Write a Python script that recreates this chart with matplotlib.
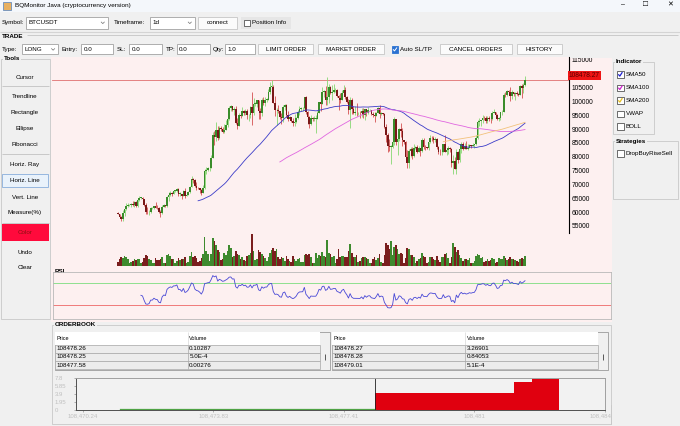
import numpy as np
import pandas as pd
import matplotlib
matplotlib.use('Agg')
import matplotlib.pyplot as plt
import matplotlib.transforms as mtransforms
from matplotlib.patches import Rectangle

plt.rcParams['font.family'] = ['Liberation Sans', 'DejaVu Sans']

# ---------------- data (daily BTCUSDT candles, prices in thousands) ----------------
first_open_k = 60.5
close_k = [
    60.0, 59.1, 58.2, 60.3, 61.8, 63.0, 63.2, 63.3, 63.6, 63.3,
    64.3, 63.1, 65.2, 65.8, 65.9, 65.6, 63.3, 60.8, 60.6, 60.8,
    62.1, 62.1, 62.8, 62.2, 62.1, 60.6, 60.3, 62.4, 63.2, 62.9,
    66.0, 67.0, 67.6, 67.4, 68.4, 68.4, 69.0, 67.4, 67.4, 66.7,
    68.2, 66.6, 67.0, 67.9, 69.9, 72.7, 72.3, 70.2, 69.5, 69.3,
    68.7, 67.8, 69.4, 75.6, 75.9, 76.5, 76.7, 80.4, 88.7, 88.0,
    90.5, 87.4, 91.1, 90.6, 89.8, 90.5, 92.3, 94.3, 98.3, 98.9,
    97.7, 98.0, 93.0, 91.9, 95.9, 95.6, 97.4, 96.4, 97.2, 95.8,
    96.0, 98.6, 96.6, 99.9, 99.9, 101.1, 97.3, 96.6, 101.1, 100.0,
    101.4, 101.4, 104.3, 106.0, 106.1, 100.2, 97.5, 97.8, 97.2, 95.2,
    94.8, 98.7, 99.4, 95.8, 94.2, 95.2, 93.7, 92.8, 93.4, 94.6,
    96.9, 98.1, 98.2, 98.3, 102.3, 96.9, 95.0, 92.5, 94.7, 94.5,
    94.5, 94.5, 96.5, 100.5, 99.9, 104.1, 104.4, 101.3, 102.3, 106.1,
    103.7, 104.0, 104.7, 104.7, 102.6, 102.1, 101.3, 103.7, 104.7, 102.4,
    100.6, 97.7, 101.4, 97.9, 96.6, 96.6, 96.5, 96.5, 96.4, 97.4,
    95.8, 97.9, 96.6, 97.5, 97.6, 96.1, 95.8, 95.5, 96.6, 98.3,
    96.1, 96.6, 96.3, 91.5, 88.7, 84.7, 84.3, 84.4, 86.0, 94.3,
    86.1, 87.2, 90.6, 89.9, 86.7, 86.2, 80.7, 78.5, 82.9, 83.7,
    81.1, 83.9, 84.3, 82.6, 84.0, 82.7, 86.9, 84.2, 84.1, 83.8,
    86.1, 87.5, 87.4, 86.9, 87.2, 84.4, 82.6, 82.4, 82.5, 85.2,
    82.5, 83.1, 83.8, 83.5, 78.4, 79.2, 76.3, 82.6, 79.6, 83.4,
    85.3, 83.7, 84.5, 83.6, 84.0, 84.9, 84.5, 85.0, 85.2, 87.5,
    93.4, 93.7, 93.9, 94.7, 94.6, 93.8, 94.9, 94.3, 94.2, 96.5,
    96.9, 95.9, 94.3, 94.7, 96.8, 97.0, 103.2, 102.9, 104.6, 104.1,
    102.8, 104.2, 103.5, 103.7, 103.5, 103.2, 106.4, 105.6, 106.8, 108.47827,
]
high_k = [
    60.7, 60.2, 59.2, 61.3, 62.0, 64.1, 64.0, 63.6, 64.0, 64.8,
    64.6, 64.8, 65.3, 66.5, 66.3, 66.1, 65.6, 64.1, 62.4, 61.5,
    62.5, 62.4, 63.0, 64.5, 63.2, 62.5, 61.3, 63.4, 63.5, 63.3,
    66.5, 67.9, 68.4, 68.0, 68.7, 68.7, 69.5, 69.5, 67.9, 67.4,
    68.8, 69.5, 67.4, 68.3, 70.3, 73.6, 72.9, 72.7, 71.6, 69.9,
    69.4, 69.0, 70.6, 76.4, 76.9, 77.2, 76.9, 81.5, 89.5, 89.9,
    93.3, 91.8, 91.9, 91.8, 91.5, 92.6, 94.0, 94.9, 98.9, 99.6,
    99.0, 98.7, 98.9, 94.7, 96.5, 96.7, 98.7, 97.5, 98.0, 98.1,
    96.3, 99.0, 104.0, 101.9, 100.5, 101.4, 101.2, 98.3, 101.9, 102.5,
    102.5, 102.0, 105.2, 107.8, 108.4, 106.5, 102.8, 98.2, 99.5, 97.4,
    96.4, 99.4, 99.9, 99.9, 97.3, 95.5, 95.2, 94.9, 96.2, 95.0,
    97.8, 98.9, 98.8, 98.8, 102.5, 102.7, 97.2, 95.3, 95.8, 95.1,
    95.4, 95.9, 97.4, 100.7, 100.9, 105.9, 104.9, 106.3, 109.6, 107.2,
    106.3, 106.8, 107.1, 105.5, 105.2, 103.0, 103.8, 104.8, 106.5, 106.0,
    102.7, 101.5, 102.5, 102.0, 99.0, 99.2, 100.1, 96.8, 97.3, 98.3,
    98.5, 98.1, 97.9, 98.8, 97.9, 97.7, 97.0, 96.9, 96.9, 98.8,
    99.5, 96.9, 96.7, 96.5, 92.5, 89.3, 87.0, 85.0, 86.6, 95.0,
    94.4, 88.9, 91.0, 92.8, 91.2, 86.8, 86.5, 83.2, 83.6, 84.4,
    84.3, 85.3, 84.7, 85.0, 84.7, 84.0, 87.4, 87.5, 85.0, 84.4,
    86.2, 88.7, 88.3, 88.3, 87.8, 87.5, 84.6, 83.6, 83.9, 85.5,
    88.5, 83.9, 84.7, 84.2, 83.8, 81.2, 80.8, 83.5, 82.7, 84.3,
    85.9, 86.1, 85.8, 86.5, 85.5, 85.5, 85.1, 85.6, 85.3, 88.5,
    93.9, 94.7, 94.0, 95.8, 95.3, 95.3, 95.6, 95.5, 95.2, 97.4,
    97.9, 96.9, 96.3, 95.2, 97.0, 97.7, 103.9, 104.3, 104.9, 105.0,
    105.8, 104.9, 104.3, 104.2, 104.6, 103.7, 106.7, 107.1, 107.3, 109.8,
]
low_k = [
    59.9, 58.9, 57.5, 57.6, 59.2, 61.6, 62.4, 62.8, 62.4, 62.8,
    62.7, 62.7, 62.7, 64.8, 65.4, 65.4, 62.9, 60.2, 60.0, 59.8,
    60.5, 61.7, 61.8, 62.1, 61.8, 60.3, 58.9, 60.1, 62.4, 62.4,
    62.4, 64.8, 66.7, 66.7, 67.3, 68.0, 68.1, 66.6, 66.6, 65.3,
    66.5, 65.7, 66.4, 66.8, 67.6, 69.7, 71.4, 69.7, 68.8, 69.0,
    67.5, 66.8, 67.5, 69.0, 74.4, 75.6, 75.7, 76.5, 80.2, 85.1,
    86.6, 86.7, 87.1, 90.1, 89.3, 89.4, 90.4, 91.6, 94.1, 97.2,
    97.2, 95.8, 92.6, 90.8, 91.8, 94.6, 95.3, 96.0, 95.7, 94.2,
    93.6, 94.6, 92.1, 95.9, 98.9, 98.7, 94.2, 94.3, 95.5, 99.3,
    99.2, 100.6, 101.2, 103.3, 105.3, 100.0, 95.6, 92.2, 96.4, 94.2,
    92.4, 93.4, 97.6, 95.2, 93.7, 93.9, 93.3, 91.9, 92.0, 92.8,
    94.2, 96.0, 97.3, 97.2, 97.9, 96.1, 92.5, 91.2, 92.2, 93.8,
    93.7, 89.3, 94.3, 96.5, 97.3, 99.9, 102.3, 99.5, 99.6, 100.1,
    103.3, 101.3, 103.7, 104.1, 102.5, 97.8, 100.3, 101.3, 103.3, 101.6,
    100.3, 96.2, 91.2, 96.2, 96.2, 95.7, 95.6, 95.7, 94.7, 95.2,
    94.9, 94.1, 95.3, 96.3, 97.2, 95.9, 95.2, 93.4, 95.3, 96.4,
    94.9, 95.8, 95.9, 91.2, 86.1, 82.3, 82.8, 78.2, 83.8, 85.1,
    85.1, 81.5, 86.3, 87.8, 84.7, 85.2, 80.1, 76.6, 76.6, 80.8,
    79.9, 80.8, 83.6, 82.2, 82.4, 81.1, 82.3, 83.6, 83.2, 83.6,
    83.2, 85.6, 86.3, 85.8, 85.9, 83.6, 81.6, 81.5, 81.3, 82.4,
    82.3, 81.2, 81.6, 82.4, 77.2, 74.5, 76.2, 74.6, 78.5, 78.9,
    82.0, 83.0, 83.6, 83.6, 83.1, 83.9, 84.0, 84.5, 83.9, 85.1,
    87.0, 91.7, 92.0, 92.9, 93.9, 93.1, 92.9, 93.8, 92.9, 94.1,
    96.4, 95.7, 94.1, 93.5, 94.1, 95.8, 96.9, 102.3, 102.8, 103.5,
    100.8, 101.5, 102.6, 101.4, 103.1, 102.6, 103.1, 102.0, 103.6, 106.4,
]
volume_k = [
    12, 22, 27, 25, 30, 26, 20, 9, 11, 16,
    20, 18, 22, 21, 10, 12, 24, 34, 30, 22,
    18, 8, 10, 24, 17, 18, 21, 26, 10, 9,
    33, 35, 30, 22, 20, 10, 14, 25, 18, 22,
    20, 28, 10, 12, 30, 42, 26, 30, 24, 12,
    16, 24, 35, 88, 45, 36, 15, 36, 84, 75,
    62, 48, 42, 18, 22, 38, 34, 45, 62, 55,
    28, 30, 45, 36, 33, 22, 28, 18, 15, 30,
    32, 40, 96, 44, 18, 20, 48, 42, 36, 30,
    25, 16, 26, 40, 48, 55, 46, 52, 26, 20,
    28, 24, 16, 30, 22, 14, 12, 30, 20, 14,
    22, 25, 12, 12, 34, 36, 34, 36, 28, 8,
    10, 38, 24, 32, 30, 42, 30, 28, 78, 40,
    36, 28, 30, 10, 22, 50, 26, 30, 30, 28,
    26, 44, 66, 40, 28, 28, 34, 12, 14, 24,
    26, 28, 24, 22, 8, 10, 20, 28, 18, 24,
    36, 12, 10, 34, 70, 64, 50, 74, 32, 58,
    64, 50, 36, 40, 36, 10, 24, 54, 50, 34,
    32, 26, 10, 16, 20, 24, 38, 30, 26, 8,
    12, 28, 26, 20, 18, 30, 18, 12, 28, 26,
    36, 38, 24, 10, 28, 68, 56, 42, 48, 32,
    24, 16, 22, 22, 18, 24, 10, 8, 14, 30,
    36, 34, 24, 26, 12, 14, 20, 16, 18, 24,
    20, 10, 12, 24, 22, 20, 30, 24, 18, 20,
    28, 20, 22, 18, 16, 12, 22, 24, 20, 30,
]
price_ticks = [55000, 60000, 65000, 70000, 75000, 80000, 85000, 90000,
               95000, 100000, 105000, 115000]
last_price = 108478.27

# order book
bid_prices = [108478.26, 108478.25, 108477.58, 108475.01, 108471.26]
bid_volumes = [0.10287, 0.0005, 0.00276, 0.12, 0.004]
ask_prices = [108478.27, 108478.28, 108479.01, 108482.08, 108482.58, 108483.33]
ask_volumes = [3.26901, 0.84053, 0.00051, 2.6, 0.78, 0.02]
depth_ticks = [108470.24, 108473.83, 108477.41, 108481.0, 108484.58]
depth_tick_labels = ['108,470.24', '108,473.83', '108,477.41', '108,481', '108,484.58']
depth_yticks = [0, 1.95, 3.9, 5.85, 7.8]
depth_ytick_labels = ['0', '1.95', '3.9', '5.85', '7.8']

tools = ['Cursor', 'Trendline', 'Rectangle', 'Ellipse', 'Fibonacci', 'Horiz. Ray',
         'Horiz. Line', 'Vert. Line', 'Measure(%)', 'Color', 'Undo', 'Clear']
indicators = ['SMA50', 'SMA100', 'SMA200', 'VWAP', 'BOLL']

# ---------------- derived series ----------------
close = np.array(close_k) * 1000
high = np.array(high_k) * 1000
low = np.array(low_k) * 1000
opens = np.concatenate([[first_open_k * 1000], close[:-1]])
idx = np.arange(len(close))
up = close >= opens

s = pd.Series(close)
sma50 = s.rolling(50).mean()
sma100 = s.rolling(100).mean()
sma200 = s.rolling(200).mean()
delta = s.diff()
gain = delta.clip(lower=0).ewm(alpha=1 / 14, adjust=False, min_periods=14).mean()
loss = (-delta.clip(upper=0)).ewm(alpha=1 / 14, adjust=False, min_periods=14).mean()
rsi = 100 - 100 / (1 + gain / loss)

# ---------------- figure / helpers (pixel coords, y down) ----------------
W, H = 680, 426
BG = '#f0f0f0'
PINK = '#fdf0f0'
fig = plt.figure(figsize=(6.8, 4.26), dpi=100)
fig.patch.set_facecolor(BG)
bg = fig.add_axes([0, 0, 1, 1])
bg.set_xlim(0, W)
bg.set_ylim(H, 0)
bg.axis('off')


def px_axes(x0, y0, x1, y1):
    return fig.add_axes([x0 / W, 1 - y1 / H, (x1 - x0) / W, (y1 - y0) / H])


def rect(x0, y0, x1, y1, fc, ec='none', lw=0.6, z=1, ax=None):
    (ax or bg).add_patch(Rectangle((x0, y0), x1 - x0, y1 - y0, facecolor=fc,
                                   edgecolor=ec, linewidth=lw, zorder=z))


def txt(x, y, s, fs=4.5, **kw):
    kw.setdefault('va', 'center')
    bg.text(x, y, s, fontsize=fs, zorder=5, **kw)


def line(xs, ys, color, lw=0.6, z=2):
    bg.plot(xs, ys, color=color, lw=lw, zorder=z, solid_capstyle='butt')


def button(x0, x1, y0, y1, label):
    rect(x0, y0, x1, y1, '#fbfbfb', '#c6c6c6')
    txt((x0 + x1) / 2, (y0 + y1) / 2, label, ha='center')


def field(x0, x1, y0, y1, label):
    rect(x0, y0, x1, y1, 'white', '#a2a2a2')
    txt(x0 + 2.5, (y0 + y1) / 2, label)


def combo(x0, x1, y0, y1, label):
    field(x0, x1, y0, y1, label)
    ym = (y0 + y1) / 2
    line([x1 - 7, x1 - 5.2, x1 - 3.4], [ym - 0.9, ym + 0.9, ym - 0.9], '#707070', 0.5, 6)


def checkbox(x, y, check=None, filled=False):
    if filled:
        rect(x, y - 3.2, x + 6.5, y + 3.2, '#2a72d2', '#2a72d2', z=3)
        line([x + 1.3, x + 2.8, x + 5.3], [y, y + 1.6, y - 1.8], 'white', 0.7, 4)
    else:
        rect(x, y - 3.2, x + 6.5, y + 3.2, 'white', '#333333', 0.5, z=3)
        if check:
            line([x + 1.3, x + 2.8, x + 5.4], [y, y + 1.8, y - 2.2], check, 0.9, 4)


def titled_box(x0, y0, x1, y1, title):
    rect(x0, y0, x1, y1, 'none', '#c8c8c8', 0.6, z=2)
    txt(x0 + 3, y0, title, fs=4.5, fontweight='bold',
        bbox=dict(fc=BG, ec='none', pad=0.4))


# ---------------- window chrome ----------------
rect(0, 0, W, 12, '#f4f7fb')
rect(3, 1.5, 11, 9.5, '#e8b060', '#5080c0', 0.5)
txt(15, 5.6, 'BQMonitor Java (cryptocurrency version)', fs=4.6)
txt(623, 5, '–', fs=5, ha='center')
txt(645.5, 5, '□', fs=6, ha='center')
txt(670, 5, '✕', fs=5, ha='center')

# symbol row
txt(1.5, 22.7, 'Symbol:')
combo(26, 108, 16.7, 28.7, 'BTCUSDT')
txt(114, 22.7, 'Timeframe:')
combo(150, 195, 16.7, 28.7, '1d')
button(198, 237, 16.7, 28.7, 'connect')
rect(241, 16.7, 291, 28.7, '#e6e6e6')
checkbox(243.5, 22.7)
txt(252, 22.7, 'Position Info')

# trade row
line([0, W], [31.8, 31.8], '#d4d4d4', 0.8)
line([27, W - 2], [35.4, 35.4], '#c4c4c4', 0.6)
txt(1.5, 36.3, 'TRADE', fontweight='bold')
ty0, ty1 = 44.3, 54.3
tym = (ty0 + ty1) / 2
txt(1.5, tym, 'Type:')
combo(21.7, 58.3, ty0, ty1, 'LONG')
txt(61, tym, 'Entry:')
field(81, 113.3, ty0, ty1, '0.0')
txt(117, tym, 'SL:')
field(129, 161.7, ty0, ty1, '0.0')
txt(165.5, tym, 'TP:')
field(176.7, 210, ty0, ty1, '0.0')
txt(213, tym, 'Qty:')
field(225, 255, ty0, ty1, '1.0')
button(258.3, 313.3, ty0, ty1, 'LIMIT ORDER')
button(318.3, 384, ty0, ty1, 'MARKET ORDER')
checkbox(391.7, tym, filled=True)
txt(400.5, tym, 'Auto SL/TP')
button(440, 511.7, ty0, ty1, 'CANCEL ORDERS')
button(516.7, 561.7, ty0, ty1, 'HISTORY')

# tools panel
titled_box(0.6, 58.8, 50, 319, 'Tools')
tool_y = [77.3, 96.7, 112.3, 128.3, 144.3, 164.3, 181, 197.3, 212.7, 232.7, 252.3, 267.7]
for name, y in zip(tools, tool_y):
    if name == 'Horiz. Line':
        rect(2, 174.3, 47.5, 187.2, '#e9f2fb', '#88aedb', 0.6, z=2)
    if name == 'Color':
        rect(1.5, 224.3, 48.5, 241, '#ff0a3c', z=2)
        txt(25, y, name, ha='center', color='#8a1010')
        continue
    txt(25, y, name, ha='center')
for y in [86, 154, 222.6]:
    line([2, 48.5], [y, y], '#c8c8c8', 0.7)

# indicator / strategies panels
titled_box(612.7, 61.7, 654, 134, 'Indicator')
ind_y = [74.3, 87.7, 100.3, 113.7, 126.3]
ind_check = ['#2020d0', '#d020d0', '#e8c020', None, None]
for name, y, c in zip(indicators, ind_y, ind_check):
    checkbox(617, y, check=c)
    txt(626, y, name)
titled_box(612.7, 141, 677.5, 199, 'Strategies')
checkbox(617, 153.3)
txt(626, 153.3, 'DropBuyRiseSell')

# chart panel background
rect(51, 57, 612, 322, PINK, z=0)

# ---------------- candle chart ----------------
PPI = 407 / 249.0   # pixels per candle
X0 = 118            # pixel x of first candle


def xl(a, b):
    return ((a - X0) / PPI, (b - X0) / PPI)


ax = px_axes(52, 57, 569, 233)
ax.patch.set_alpha(0)
ax.set_xlim(*xl(52, 569))
top_p = last_price + 23 / 2.766 * 1000
bot_p = last_price - 153 / 2.766 * 1000
ax.set_ylim(bot_p, top_p)
for sp in ['left', 'top', 'bottom']:
    ax.spines[sp].set_visible(False)
ax.spines['right'].set_color('black')
ax.spines['right'].set_linewidth(0.8)
ax.set_xticks([])
ax.yaxis.tick_right()
ax.set_yticks(price_ticks)
ax.set_yticklabels([str(t) for t in price_ticks])
ax.tick_params(axis='y', length=0, pad=2, labelsize=4.8)
shift = mtransforms.ScaledTranslation(0, 0.02, fig.dpi_scale_trans)
for lab in ax.get_yticklabels():
    lab.set_transform(lab.get_transform() + shift)

green_body, green_wick = '#3a8c2b', '#86d872'
red_body, red_wick = '#7a1818', '#d45050'
ax.vlines(idx[up], low[up], high[up], color=green_wick, lw=0.6, zorder=2)
ax.vlines(idx[~up], low[~up], high[~up], color=red_wick, lw=0.6, zorder=2)
body_lo = np.minimum(opens, close)
body_h = np.maximum(np.abs(close - opens), 200)
ax.bar(idx[up], body_h[up], bottom=body_lo[up], width=1.0, color=green_body, lw=0, zorder=3)
ax.bar(idx[~up], body_h[~up], bottom=body_lo[~up], width=1.0, color=red_body, lw=0, zorder=3)

ax.plot(idx, sma50, color='#3b3bc8', lw=0.6, zorder=4)
ax.plot(idx, sma100, color='#e066e0', lw=0.6, zorder=4)
ax.plot(idx, sma200, color='#f2c27c', lw=0.6, zorder=4)
ax.axhline(last_price, color='#e07070', lw=0.6, zorder=1)
lbl_tr = mtransforms.offset_copy(ax.get_yaxis_transform(), fig=fig, y=3.4, units='points')
ax.text(1.0, last_price, f'{last_price:.2f}', transform=lbl_tr, ha='left', va='center',
        fontsize=4.8, color='#5a0000', zorder=10, clip_on=False,
        bbox=dict(fc='#ee1414', ec='none', pad=0.9))

# volume
axv = px_axes(52, 233, 569, 266)
axv.patch.set_alpha(0)
axv.set_xlim(*xl(52, 569))
axv.set_ylim(0, 99)
axv.axis('off')
vol = np.array(volume_k)
axv.bar(idx[up], vol[up], width=1.0, color='#3e8a2e', lw=0)
axv.bar(idx[~up], vol[~up], width=1.0, color='#7a1e1e', lw=0)

# RSI
axr = px_axes(53, 271.7, 611, 319)
axr.patch.set_alpha(0)
axr.set_xlim(*xl(53, 611))
axr.set_ylim(4.2, 91.4)
axr.set_xticks([])
axr.set_yticks([])
for sp in axr.spines.values():
    sp.set_color('#b8b8b8')
    sp.set_linewidth(0.6)
axr.axhline(70, color='#8ee08e', lw=0.7)
axr.axhline(30, color='#f07a7a', lw=0.7)
axr.plot(idx, rsi, color='#4848d6', lw=0.6)
txt(55, 271.3, 'RSI', fontweight='bold', bbox=dict(fc=PINK, ec='none', pad=0.3))

# ---------------- order book ----------------
titled_box(52, 325, 611, 424, 'ORDERBOOK')


def java_str(v):
    if v < 1e-3:
        m, e = f'{v:.1E}'.split('E')
        return f'{m}E{int(e)}'
    return str(v)


def book_table(x0, xc, x1, xs, prices, vols):
    rect(x0, 332, xs, 369.6, BG, '#9a9a9a', 0.6)
    rect(x0, 332, x1, 344.5, 'white')
    txt(x0 + 1.5, 338.3, 'Price', fs=4)
    txt(xc + 1.5, 338.3, 'Volume', fs=4)
    line([xc, xc], [332, 344.5], '#d8d8d8', 0.5)
    rows = [344.5, 352.8, 361.1, 369.4]
    for r in range(3):
        rect(x0, rows[r], x1, rows[r + 1], '#ececec', '#a8a8a8', 0.5)
        line([xc, xc], [rows[r], rows[r + 1]], '#a8a8a8', 0.5)
        ym = (rows[r] + rows[r + 1]) / 2
        txt(x0 + 1, ym, f'{prices[r]:.2f}')
        txt(xc + 1.5, ym, java_str(vols[r]))
    line([(x1 + xs) / 2] * 2, [354, 359.5], '#404040', 0.6)


book_table(55, 187.7, 320, 330, bid_prices, bid_volumes)
book_table(332, 465, 598, 608, ask_prices, ask_volumes)

# depth chart
axd = px_axes(76.2, 377.5, 604.7, 409.5)
axd.set_facecolor('#f2f2f2')
axd.set_xlim(108470.24 - 6.5 / 36.4, depth_ticks[-1])
axd.set_ylim(0, 7.8)
bid_cum = np.cumsum(bid_volumes)
ask_cum = np.cumsum(ask_volumes)
bx = np.array(bid_prices)[::-1]
by = bid_cum[::-1]
axd.fill_between(bx, by, step='pre', color='#4c9e40', lw=0)
axd.step(bx, by, where='pre', color='#4fa345', lw=0.9)
axd.fill_between(ask_prices, ask_cum, step='post', color='#e0000f', lw=0)
axd.axvline((bid_prices[0] + ask_prices[0]) / 2, color='#202020', lw=0.6)
axd.spines['left'].set_color('#505050')
axd.spines['bottom'].set_color('#505050')
axd.spines['top'].set_color('#a0a0a0')
axd.spines['right'].set_color('#a0a0a0')
for sp in axd.spines.values():
    sp.set_linewidth(0.7)
axd.set_xticks(depth_ticks)
axd.set_xticklabels(depth_tick_labels)
axd.set_yticks(depth_yticks)
axd.set_yticklabels(depth_ytick_labels)
axd.tick_params(axis='x', length=1.5, width=0.5, color='#909090', pad=1.2,
                labelsize=4.3, labelcolor='#c0c0c0')
axd.tick_params(axis='y', length=1.2, width=0.5, color='#909090', pad=14.5,
                labelsize=4.3, labelcolor='#c0c0c0')
for lab in axd.get_yticklabels():
    lab.set_ha('left')

# overlay: clip cut-off labels at panel edges
ov = fig.add_axes([0, 0, 1, 1], zorder=50)
ov.set_xlim(0, W)
ov.set_ylim(H, 0)
ov.axis('off')
rect(569.5, 54, 612, 57.8, BG, ax=ov)
rect(611.5, 410.5, 680, 424, BG, ax=ov)
ov.plot([611, 611], [405, 424], color='#c8c8c8', lw=0.6)

fig.savefig('out.png', dpi=100, facecolor=fig.get_facecolor())
